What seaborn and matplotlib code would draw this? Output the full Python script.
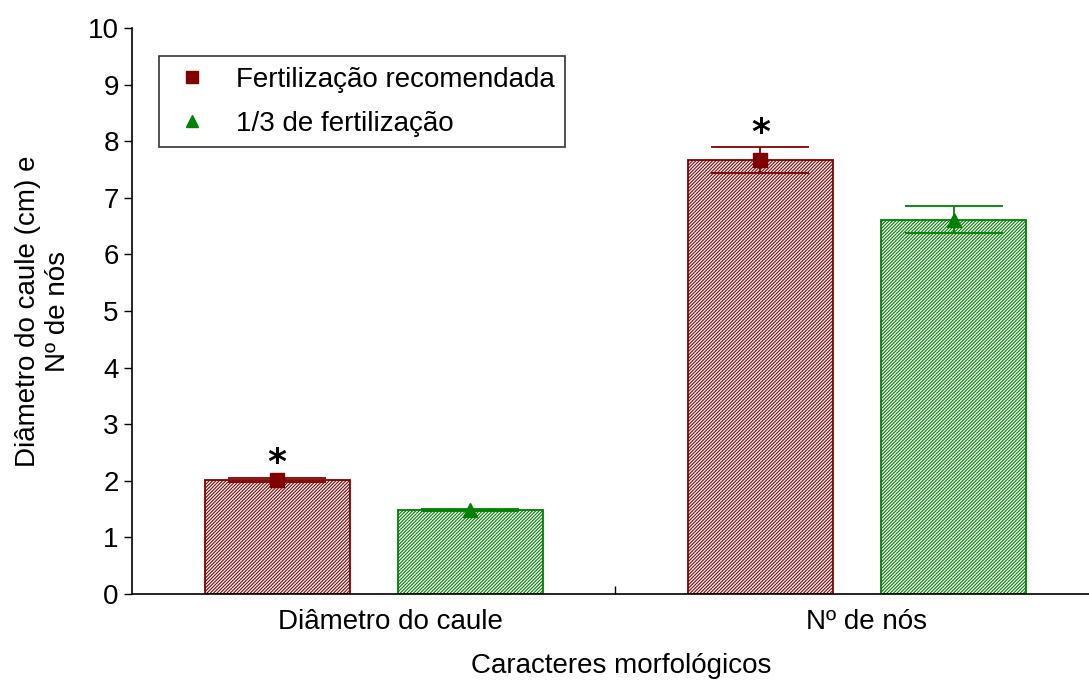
import numpy as np
import pandas as pd
import seaborn as sns
import matplotlib.pyplot as plt
import matplotlib.transforms as mtransforms
from matplotlib.lines import Line2D

categories = ["Diâmetro do caule", "Nº de nós"]
treatments = ["Fertilização recomendada", "1/3 de fertilização"]
means_rec = [2.01, 7.66]
means_third = [1.49, 6.61]
err_rec = [0.04, 0.23]
err_third = [0.02, 0.24]
signif_rec = ["*", "*"]

red = "#800000"
green = "#008000"
colors = [red, green]
markers = ["s", "^"]

sns.set_style("ticks", {"axes.edgecolor": "black", "text.color": "black",
                        "xtick.color": "black", "ytick.color": "black",
                        "axes.labelcolor": "black"})
plt.rcParams['font.family'] = ['Liberation Sans', 'DejaVu Sans']
plt.rcParams['hatch.linewidth'] = 0.8

df = pd.DataFrame({
    "categoria": categories * 2,
    "tratamento": [treatments[0]] * 2 + [treatments[1]] * 2,
    "valor": means_rec + means_third,
})

fig = plt.figure(figsize=(10.89, 6.85), dpi=100)
ax = fig.add_axes([132 / 1089, 91 / 685, 957 / 1089, 566 / 685])

sns.barplot(data=df, x="categoria", y="valor", hue="tratamento", hue_order=treatments,
            palette=colors, width=0.8, gap=0.25, errorbar=None, legend=False, ax=ax)

all_means = [means_rec, means_third]
all_errs = [err_rec, err_third]
bar_conts = list(ax.containers)
for i, cont in enumerate(bar_conts):
    xs = []
    for bar in cont.patches:
        bar.set_facecolor("white")
        bar.set_edgecolor(colors[i])
        bar.set_hatch("//////////")
        bar.set_linewidth(1.3)
        xs.append(bar.get_x() + bar.get_width() / 2)
    ax.errorbar(xs, all_means[i], yerr=all_errs[i], fmt="none", ecolor=colors[i],
                elinewidth=1.3, capsize=35, capthick=1.3, zorder=4)
    ax.plot(xs, all_means[i], linestyle="none", marker=markers[i], color=colors[i],
            markersize=10, zorder=5)
    if i == 0:
        for x, m, e, s in zip(xs, means_rec, err_rec, signif_rec):
            ax.text(x, m + e - 0.04, s, ha="center", va="bottom", fontsize=26,
                    fontweight="bold", family="DejaVu Sans", color="black")

ax.set_ylim(0, 10)
ax.set_xlim(-0.5, 1.48)
ax.set_yticks(range(0, 11))
ax.tick_params(axis="y", labelsize=20, direction="out", length=6, width=1)
ax.tick_params(axis="x", labelsize=20, length=0, pad=11)
ax.set_xticks([0.5], minor=True)
ax.tick_params(axis="x", which="minor", direction="in", length=6, width=1)
sns.despine(ax=ax)
for sp in ["left", "bottom"]:
    ax.spines[sp].set_linewidth(1.2)

# the category labels sit a little right of the group centres in the original
for lab, dx in zip(ax.get_xticklabels(), [17, 9]):
    lab.set_transform(lab.get_transform() + mtransforms.ScaledTranslation(dx / 100, 0, fig.dpi_scale_trans))

ax.set_xlabel("Caracteres morfológicos", fontsize=20)
ax.xaxis.set_label_coords((621 - 132) / 957, -0.105)
ax.set_ylabel("Diâmetro do caule (cm) e\nNº de nós", fontsize=20, labelpad=12)

handles = [Line2D([], [], linestyle="none", marker=markers[i], color=colors[i], markersize=9)
           for i in range(2)]
leg = ax.legend(handles, treatments, loc="upper left", bbox_to_anchor=(0.028, 0.95),
                borderaxespad=0, fontsize=20, frameon=True, fancybox=False,
                labelspacing=0.65, handletextpad=0.8, borderpad=0.38, handlelength=1.6)
leg.get_frame().set_edgecolor("black")
leg.get_frame().set_linewidth(1.2)

fig.savefig("out.png", dpi=100)
